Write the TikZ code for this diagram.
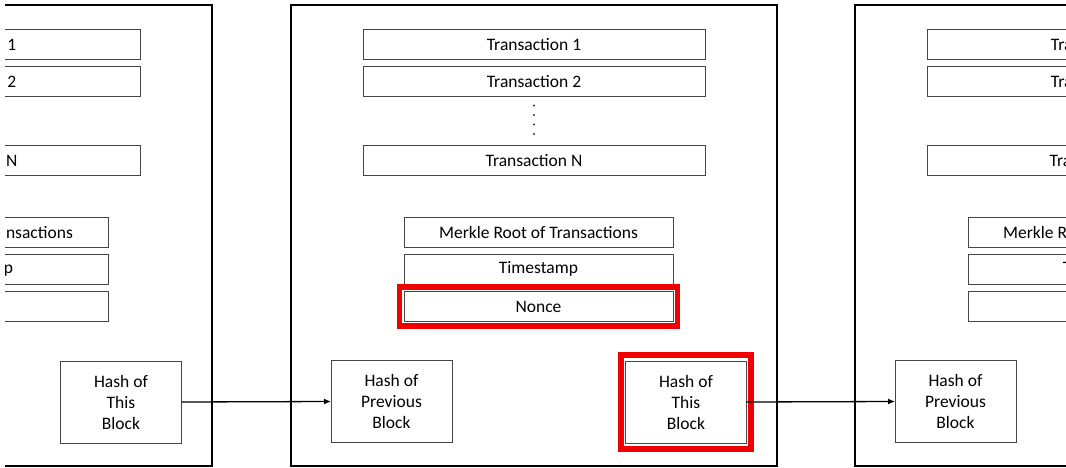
\documentclass[tikz,border=0pt]{standalone}
\usepackage{fontspec}
\setmainfont{Carlito}
\usetikzlibrary{arrows.meta,fit}
\tikzset{
  fieldbox/.style={draw=black!72, line width=1pt, fill=white, inner sep=0pt, outer sep=0pt,
    font=\fontsize{17.5}{21}\selectfont, text=black},
  hashbox/.style={fieldbox, align=center, minimum width=121pt, minimum height=82pt},
  txbox/.style={fieldbox, minimum width=342pt, minimum height=30pt},
  hdbox/.style={fieldbox, minimum width=269pt, minimum height=30pt},
  blockframe/.style={draw=black, line width=1.5pt},
  redframe/.style={draw={rgb,255:red,240;green,0;blue,0}, line width=5.5pt, inner sep=4.5pt, outer sep=0pt},
  link/.style={draw=black, line width=1.3pt, -{Latex[length=7pt,width=6pt]}},
  dotmark/.style={fill=black!80}
}
\newcommand\chainblock[2]{%
  \begin{scope}[xshift=#2pt]
    \draw[blockframe] (291,5) rectangle (777,466);
    \node[txbox] (#1t1) at (534,44.5) {Transaction 1};
    \node[txbox] (#1t2) at (534,81.5) {Transaction 2};
    \node[txbox] (#1tn) at (534,160.5) {Transaction N};
    \foreach \yy in {105.5,115,124.5,134} \fill[dotmark] (534,\yy) circle (1.2pt);
    \node[hdbox] (#1mr) at (538.5,232) {Merkle Root of Transactions};
    \node[hdbox] (#1ts) at (538.5,269) {Timestamp};
    \node[hdbox] (#1no) at (538.5,306.5) {Nonce};
    \node[hashbox] (#1hp) at (391.5,401.5) {Hash of\\Previous\\Block};
    \node[hashbox] (#1ht) at (686,402) {Hash of\\This\\Block};
  \end{scope}}
\begin{document}
\begin{tikzpicture}[x=1pt,y=-1pt]
  \useasboundingbox (0,0) rectangle (1066,468);
  \fill[white] (0,0) rectangle (1066,468);
  \begin{scope}
  \clip (5,0) rectangle (1066,468);
  \chainblock{L}{-565}
  \chainblock{M}{0}
  \chainblock{R}{564}
  \node[redframe, fit=(Mno)] (rednonce) {};
  \node[redframe, fit=(Mht), inner ysep=6pt] (redhash) {};
  \draw[link] (Lht.east) -- (Mhp.west);
  \draw[link] (Mht.east) -- (Rhp.west);
  \end{scope}
\end{tikzpicture}
\end{document}
